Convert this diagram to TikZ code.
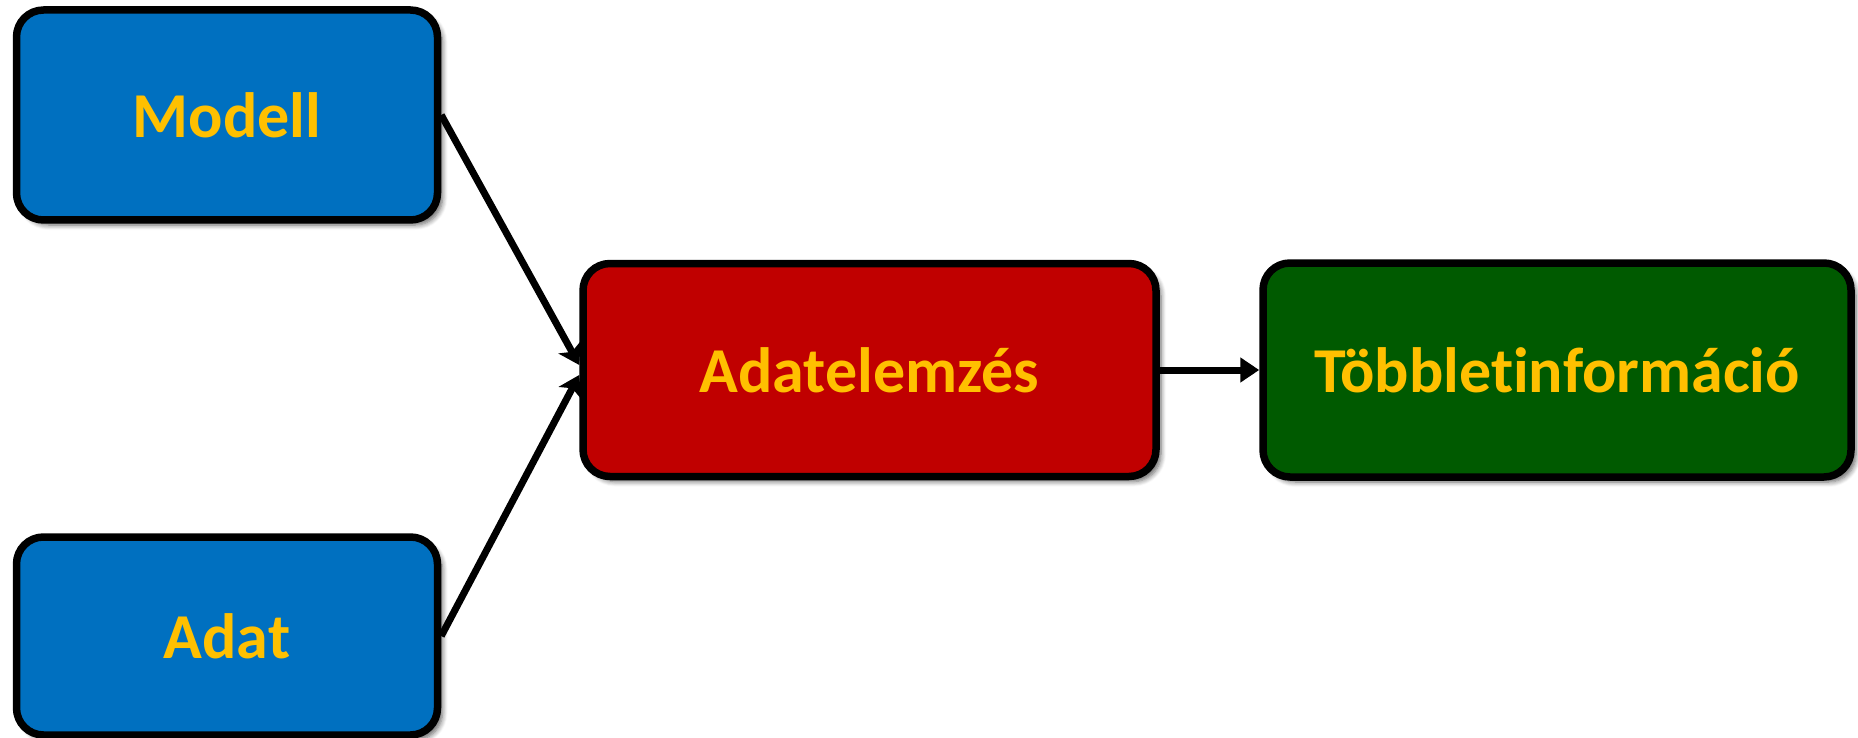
\documentclass[tikz,border=0pt]{standalone}
\usepackage{fontspec}
\setmainfont{Carlito}[Ligatures={NoCommon}]
\usetikzlibrary{arrows.meta,shadows.blur}
\definecolor{boxblue}{HTML}{0070C0}
\definecolor{boxred}{HTML}{C00000}
\definecolor{boxgreen}{HTML}{005A00}
\definecolor{labelgold}{HTML}{FFC000}
\begin{document}
\begin{tikzpicture}[x=1pt,y=-1pt,
  stage/.style={draw=black, line width=7.5pt, rounded corners=27pt,
    minimum width=#1, inner sep=0pt, text=labelgold,
    font=\fontsize{64}{70}\selectfont\bfseries,
    blur shadow={shadow xshift=5pt, shadow yshift=-5pt, shadow blur steps=6,
      shadow blur radius=5pt, shadow opacity=60}},
  link/.style={draw=black, line width=7pt},
  head/.style={-{Stealth[length=20pt,width=25pt,inset=5pt]}},
  flathead/.style={-{Triangle[length=19pt,width=24pt]}}]
  \useasboundingbox (0,0) rectangle (1858,738);
  % input boxes
  \node[stage=421pt, fill=boxblue, minimum height=210pt] (modell) at (227,115) {Modell};
  \node[stage=421pt, fill=boxblue, minimum height=198pt] (adat) at (227,636) {Adat};
  % analysis step
  \node[stage=573pt, fill=boxred, minimum height=213pt] (elemzes) at (869.5,370) {Adatelemzés};
  % result
  \node[stage=588pt, fill=boxgreen, minimum height=214pt] (tobblet) at (1557,370) {Többletinformáció};
  % connectors
  \draw[link, head] (modell.east) -- ([yshift=5pt]elemzes.west);
  \draw[link, head] (adat.east) -- ([yshift=-5pt]elemzes.west);
  \draw[link, flathead] (elemzes.east) -- (tobblet.west);
\end{tikzpicture}
\end{document}
